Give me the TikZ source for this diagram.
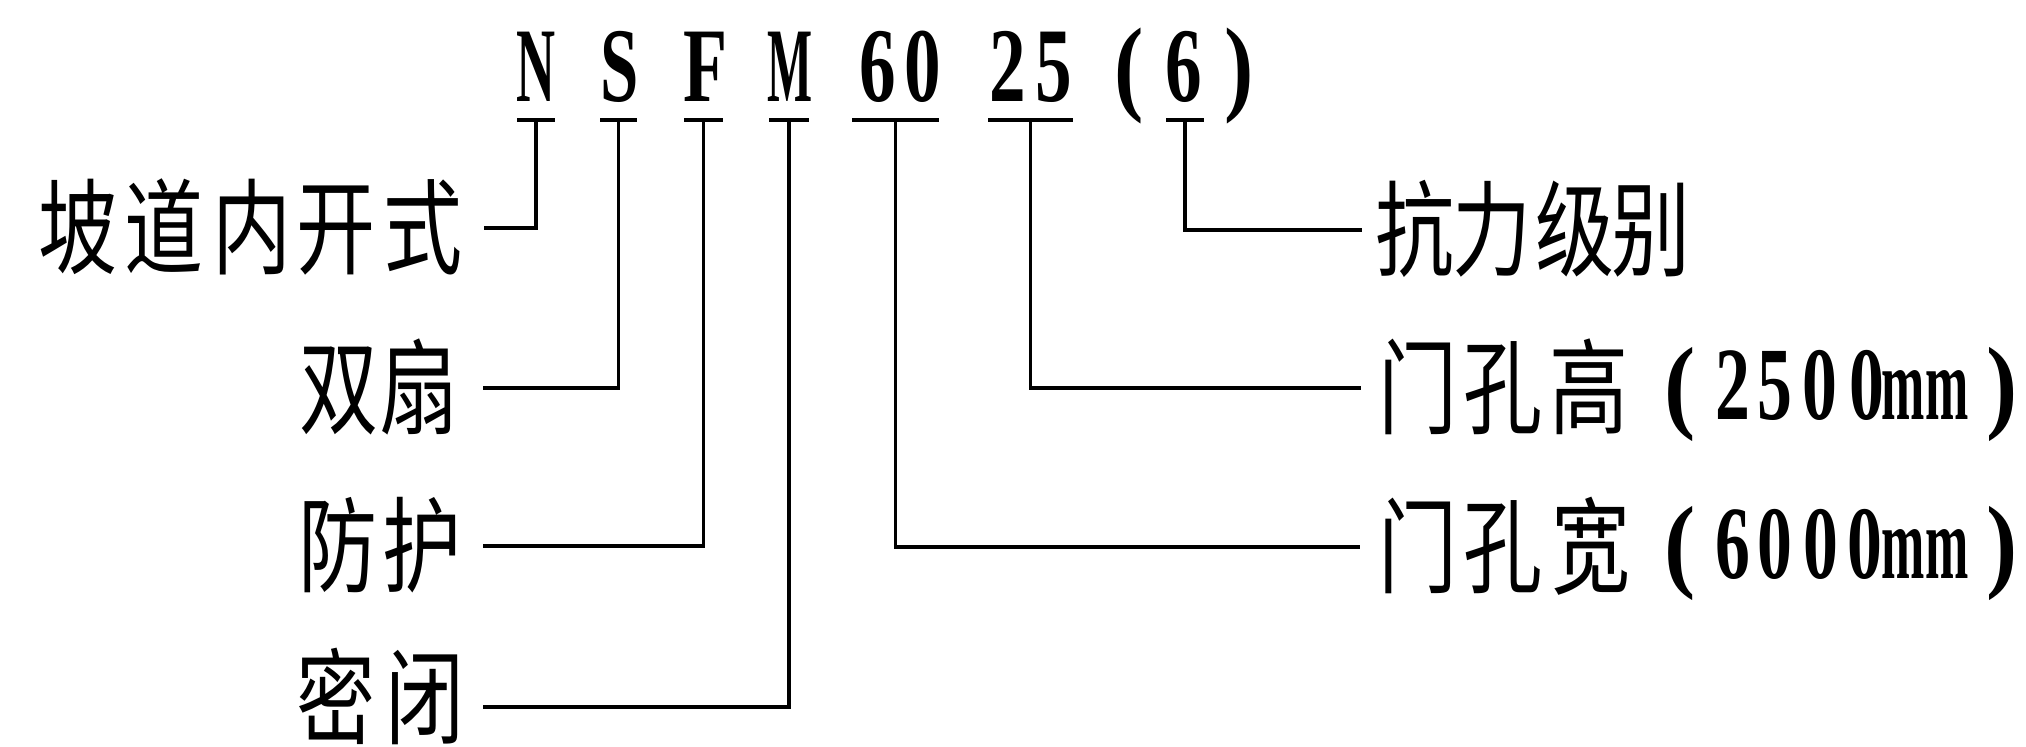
\documentclass[tikz,border=0pt]{standalone}
\usepackage{graphicx}
\usepackage{fontspec}
\setmainfont{Liberation Serif}
\newfontfamily\cjk{Noto Sans CJK SC}
\newlength\pxu \setlength\pxu{0.5pt}
% place a glyph centred at #1 px from the left edge of its box
\newcommand\pl[2]{\makebox[0pt][l]{\hspace*{#1\pxu}\makebox[0pt][c]{#2}}}
\newcommand\hz[1]{\scalebox{0.76}[1]{\cjk #1}}
\newcommand\hzup[1]{\raisebox{4.5pt}{\scalebox{0.76}[1]{\cjk #1}}}
\newcommand\lt[2]{\scalebox{#1}[1]{\bfseries #2}}
\newcommand\rl[2]{\raisebox{3.5pt}{\scalebox{#1}[1]{\bfseries #2}}}
\begin{document}
\begin{tikzpicture}[x=0.5pt,y=-0.5pt,
  conn/.style={line width=1.6pt},
  codebox/.style={inner sep=0pt,outer sep=0pt,anchor=south,text height=36pt,text depth=9pt,font=\fontsize{53}{53}\selectfont},
  labbox/.style={inner sep=0pt,outer sep=0pt,text height=50pt,text depth=11pt,font=\fontsize{52}{52}\selectfont}]
\useasboundingbox[fill=white] (0,0) rectangle (2026,747);

% code row
\node[codebox] (cN) at (536,120) {\makebox[38\pxu][l]{\pl{19}{\lt{0.51}{N}}}};
\node[codebox] (cS) at (618.5,120) {\makebox[37\pxu][l]{\pl{20}{\lt{0.65}{S}}}};
\node[codebox] (cF) at (703.5,120) {\makebox[39\pxu][l]{\pl{22}{\lt{0.68}{F}}}};
\node[codebox] (cM) at (789,120) {\makebox[40\pxu][l]{\pl{21}{\lt{0.45}{M}}}};
\node[codebox] (c60) at (895.5,120) {\makebox[87\pxu][l]{\pl{26}{\lt{0.69}{6}}\pl{71}{\lt{0.69}{0}}}};
\node[codebox] (c25) at (1030.5,120) {\makebox[85\pxu][l]{\pl{20}{\lt{0.69}{2}}\pl{66}{\lt{0.69}{5}}}};
\node[codebox] (c6) at (1185,120) {\makebox[150\pxu][l]{\pl{19}{\lt{0.83}{(}}\pl{74}{\lt{0.69}{6}}\pl{129}{\lt{0.83}{)}}}};

% underlines
\draw[conn] (cN.south west) -- (cN.south east);
\draw[conn] (cS.south west) -- (cS.south east);
\draw[conn] (cF.south west) -- (cF.south east);
\draw[conn] (cM.south west) -- (cM.south east);
\draw[conn] (c60.south west) -- (c60.south east);
\draw[conn] (c25.south west) -- (c25.south east);
\draw[conn] ([xshift=-9.5pt]c6.south) -- ([xshift=9.5pt]c6.south);

% left labels
\node[labbox,anchor=east] (lA) at (484,228) {\makebox[484\pxu][l]{\pl{78}{\hz{坡}}\pl{164}{\hz{道}}\pl{252}{\hz{内}}\pl{336}{\hz{开}}\pl{423}{\hz{式}}}};
\node[labbox,anchor=east] (lB) at (483,388) {\makebox[483\pxu][l]{\pl{339}{\hz{双}}\pl{419}{\hz{扇}}}};
\node[labbox,anchor=east] (lC) at (483,546) {\makebox[483\pxu][l]{\pl{338}{\hz{防}}\pl{422}{\hz{护}}}};
\node[labbox,anchor=east] (lD) at (483,707) {\makebox[483\pxu][l]{\pl{336}{\hzup{密}}\pl{425}{\hzup{闭}}}};

% right labels
\node[labbox,anchor=west] (rA) at (1362,230) {\makebox[664\pxu][l]{\pl{53}{\hz{抗}}\pl{130}{\hz{力}}\pl{213}{\hz{级}}\pl{289}{\hz{别}}}};
\node[labbox,anchor=west] (rB) at (1361,388) {\makebox[665\pxu][l]{\pl{57}{\hz{门}}\pl{142}{\hz{孔}}\pl{228}{\hz{高}}\pl{319}{\rl{0.9}{(}}\pl{372}{\rl{0.67}{2}}\pl{414}{\rl{0.67}{5}}\pl{459}{\rl{0.67}{0}}\pl{506}{\rl{0.67}{0}}\pl{564}{\rl{0.5}{mm}}\pl{641}{\rl{0.9}{)}}}};
\node[labbox,anchor=west] (rC) at (1360,547) {\makebox[666\pxu][l]{\pl{58}{\hz{门}}\pl{143}{\hz{孔}}\pl{231}{\hz{宽}}\pl{320}{\rl{0.9}{(}}\pl{373}{\rl{0.67}{6}}\pl{415}{\rl{0.67}{0}}\pl{461}{\rl{0.67}{0}}\pl{505}{\rl{0.67}{0}}\pl{565}{\rl{0.5}{mm}}\pl{642}{\rl{0.9}{)}}}};

% connectors
\draw[conn] (cN.south) |- (lA.east);
\draw[conn] (cS.south) |- (lB.east);
\draw[conn] (cF.south) |- (lC.east);
\draw[conn] (cM.south) |- (lD.east);
\draw[conn] (c6.south) |- (rA.west);
\draw[conn] (c25.south) |- (rB.west);
\draw[conn] (c60.south) |- (rC.west);
\end{tikzpicture}
\end{document}
